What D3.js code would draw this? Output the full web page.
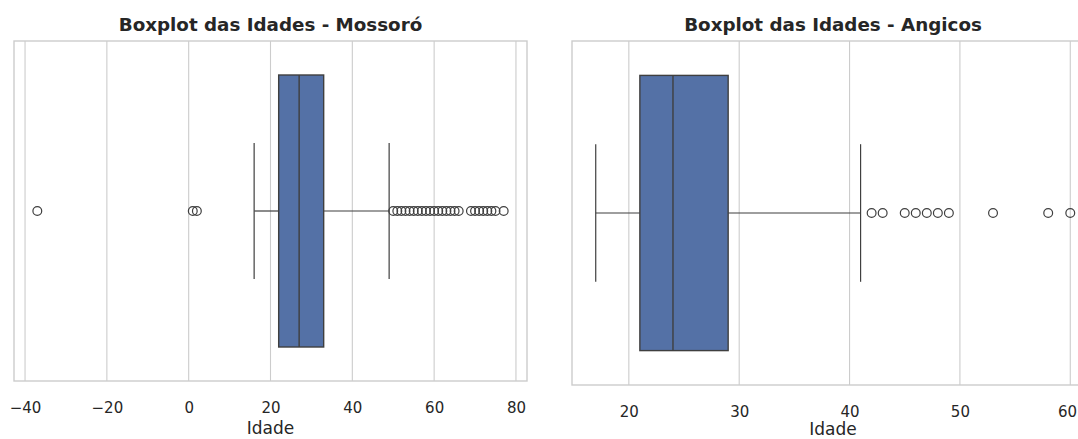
<!DOCTYPE html>
<html>
<head>
<meta charset="utf-8">
<script src="https://cdn.jsdelivr.net/npm/d3@7"></script>
<style>
  body { margin: 0; background: #fff; }
  svg { display: block; font-family: "DejaVu Sans", sans-serif; }
</style>
</head>
<body>
<svg id="chart" width="1078" height="439"></svg>
<script>
// box summaries
var panelTitles = ["Boxplot das Idades - Mossoró", "Boxplot das Idades - Angicos"];
var boxStats = [
    { q1: 22, median: 27, q3: 33, lo: 16, hi: 49 },
    { q1: 21, median: 24, q3: 29, lo: 17, hi: 41 }
];
var outliersMossoro = [-37, 1, 2, 50, 51, 52, 53, 54, 55, 56, 57, 58, 59, 60, 61, 62, 63, 64, 65, 66, 69, 70, 71, 72, 73, 74, 75, 77];
var outliersAngicos = [42, 43, 45, 46, 47, 48, 49, 53, 58, 60];
var ticksMossoro = [-40, -20, 0, 20, 40, 60, 80];
var ticksAngicos = [20, 30, 40, 50, 60];
var xLabel = "Idade";

var W = 1078;
var svg = d3.select("#chart");

var panels = [
    { x0: 14, x1: 527, y0: 41, y1: 381, domain: [-42.7, 82.7], outliers: outliersMossoro, ticks: ticksMossoro },
    { x0: 572, x1: 1094, y0: 41, y1: 385, domain: [14.85, 62.15], outliers: outliersAngicos, ticks: ticksAngicos }
];

var gridColor = "#cccccc";
var lineColor = "#3f3f3f";
var boxFill = "#5471a6";

panels.forEach(function (p, i) {
    var st = boxStats[i];
    var x = d3.scaleLinear().domain(p.domain).range([p.x0, p.x1]);
    // single category band, seaborn style: box takes 0.8 of the height
    var y = d3.scaleLinear().domain([-0.5, 0.5]).range([p.y0, p.y1]);

    var g = svg.append("g");

    // grid
    g.selectAll(".grid").data(p.ticks).enter().append("line")
        .attr("x1", function (d) { return x(d); })
        .attr("x2", function (d) { return x(d); })
        .attr("y1", p.y0).attr("y2", p.y1)
        .attr("stroke", gridColor).attr("stroke-width", 1.1);

    // frame
    g.append("rect")
        .attr("x", p.x0).attr("y", p.y0)
        .attr("width", p.x1 - p.x0).attr("height", p.y1 - p.y0)
        .attr("fill", "none").attr("stroke", gridColor).attr("stroke-width", 1.4);

    // whiskers
    g.append("line")
        .attr("x1", x(st.lo)).attr("x2", x(st.q1))
        .attr("y1", y(0)).attr("y2", y(0))
        .attr("stroke", lineColor).attr("stroke-width", 1.2);
    g.append("line")
        .attr("x1", x(st.q3)).attr("x2", x(st.hi))
        .attr("y1", y(0)).attr("y2", y(0))
        .attr("stroke", lineColor).attr("stroke-width", 1.2);
    [st.lo, st.hi].forEach(function (v) {
        g.append("line")
            .attr("x1", x(v)).attr("x2", x(v))
            .attr("y1", y(-0.2)).attr("y2", y(0.2))
            .attr("stroke", lineColor).attr("stroke-width", 1.2);
    });

    // box
    g.append("rect")
        .attr("x", x(st.q1)).attr("y", y(-0.4))
        .attr("width", x(st.q3) - x(st.q1)).attr("height", y(0.4) - y(-0.4))
        .attr("fill", boxFill).attr("stroke", lineColor).attr("stroke-width", 1.4);
    g.append("line")
        .attr("x1", x(st.median)).attr("x2", x(st.median))
        .attr("y1", y(-0.4)).attr("y2", y(0.4))
        .attr("stroke", lineColor).attr("stroke-width", 1.4);

    // fliers
    g.selectAll(".flier").data(p.outliers).enter().append("circle")
        .attr("cx", function (d) { return x(d); })
        .attr("cy", y(0))
        .attr("r", 4.4)
        .attr("fill", "none").attr("stroke", lineColor).attr("stroke-width", 1.2);

    // x axis
    var axis = d3.axisBottom(x).tickValues(p.ticks).tickSize(0).tickPadding(0)
        .tickFormat(function (d) { return d < 0 ? "\u2212" + Math.abs(d) : d; });
    var ax = g.append("g").attr("transform", "translate(0," + p.y1 + ")").call(axis);
    ax.select(".domain").remove();
    ax.selectAll("text")
        .attr("dy", null).attr("y", 32)
        .attr("fill", "#262626")
        .style("font-size", "15px")
        .style("font-family", "DejaVu Sans, sans-serif");
    // keep the last label inside the picture
    ax.selectAll(".tick").each(function () {
        var t = d3.select(this).select("text");
        var b = this.getBoundingClientRect();
        if (b.right > W - 1) t.attr("x", (W - 1) - b.right);
    });

    g.append("text")
        .attr("x", (p.x0 + p.x1) / 2).attr("y", Math.min(p.y1 + 53, 435))
        .attr("text-anchor", "middle")
        .attr("fill", "#262626")
        .style("font-size", "17px")
        .text(xLabel);

    g.append("text")
        .attr("x", (p.x0 + p.x1) / 2).attr("y", 31)
        .attr("text-anchor", "middle")
        .attr("fill", "#262626")
        .style("font-size", "18.3px").style("font-weight", "bold")
        .text(panelTitles[i]);
});
</script>
</body>
</html>
